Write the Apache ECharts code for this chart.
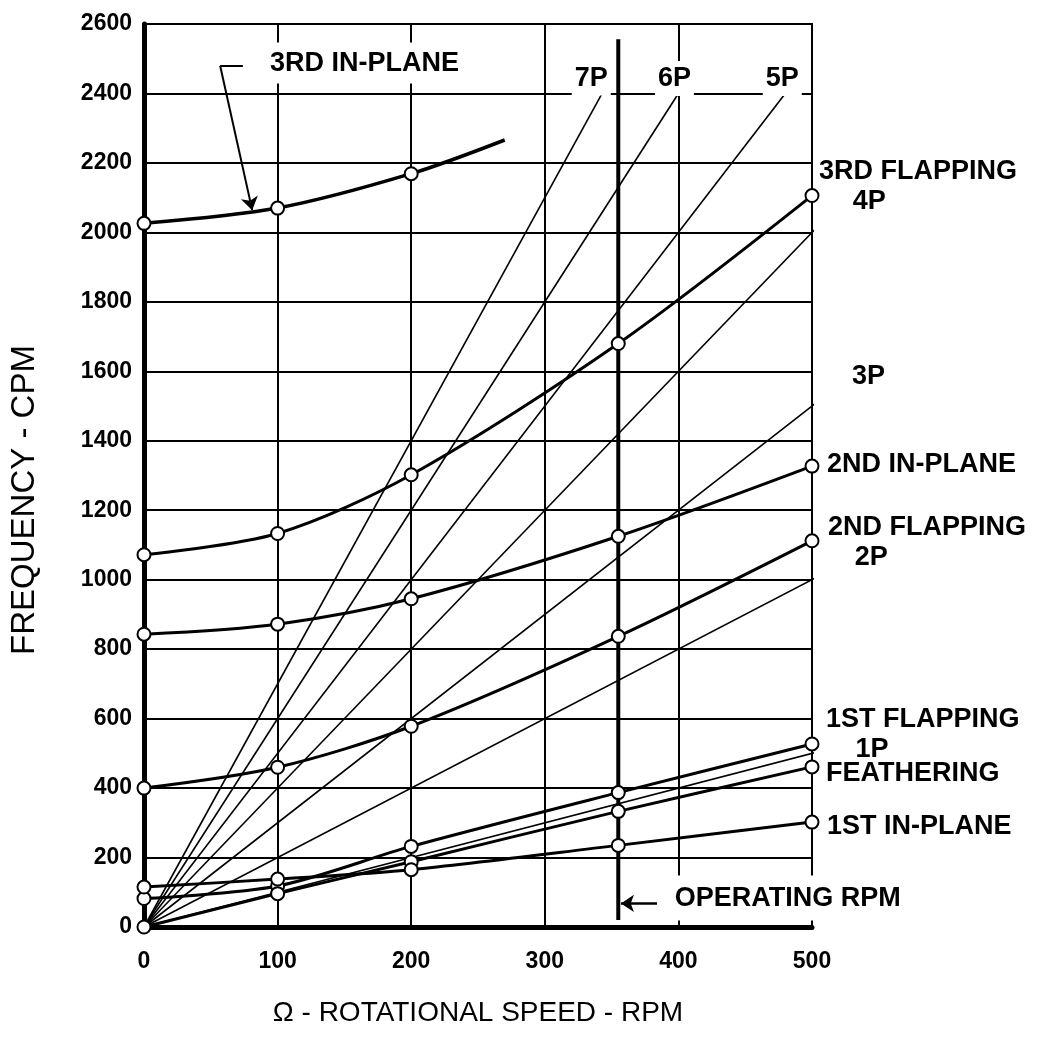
<!DOCTYPE html>
<html>
<head>
<meta charset="utf-8">
<script src="https://cdn.jsdelivr.net/npm/echarts@6/dist/echarts.min.js"></script>
<style>
html,body{margin:0;padding:0;background:#fff;}
#c{width:1054px;height:1038px;}
</style>
</head>
<body>
<div id="c"></div>
<script>
// ---------- data ----------
const rpmStations = [0, 100, 200, 355, 500];

const thirdInPlaneRpm = [0, 100, 200, 270];
const thirdInPlane    = [2026, 2070, 2169, 2266];

const thirdFlapping  = [1072, 1133, 1302, 1680, 2106];
const secondInPlane  = [843, 872, 945, 1125, 1327];
const secondFlapping = [400, 460, 578, 837, 1112];
const firstFlapping  = [82, 118, 232, 387, 527];
const feathering     = [0, 96, 188, 333, 461];
const firstInPlane   = [115, 138, 165, 235, 302];

const perRevNames  = ['1P', '2P', '3P', '4P', '5P', '6P', '7P'];
const perRevEndRpm = [522, 526, 521, 520, 480, 400, 343];
const perRevEndCpm = [522, 1052, 1563, 2080, 2400, 2400, 2401];

const operatingRpm  = 355;
const operatingSpan = [20, 2556];

const xTickLabels = ['0', '100', '200', '300', '400', '500'];
const yTickLabels = ['0', '200', '400', '600', '800', '1000', '1200', '1400',
                     '1600', '1800', '2000', '2200', '2400', '2600'];

// annotation anchors (data units)
const thirdInPlaneText   = [92, 2496];
const thirdInPlaneLeader = [[74, 2480], [57, 2480], [81, 2064]];
const operatingText      = [395, 92];
const operatingArrow     = [[384, 68], [357, 68]];

// ---------- chart ----------
const FONT = '"Liberation Sans", Arial, Helvetica, sans-serif';
const BLACK = '#000';

function pairs(xs, ys) { return xs.map((x, i) => [x, ys[i]]); }

const modeStyle = {
  type: 'line',
  smooth: 0.3,
  symbol: 'circle',
  symbolSize: 13,
  showAllSymbol: true,
  clip: false,
  z: 5,
  lineStyle: { color: BLACK, width: 3 },
  itemStyle: { color: '#fff', borderColor: BLACK, borderWidth: 2 },
  emphasis: { disabled: true }
};

const series = [];

perRevNames.forEach((n, i) => {
  series.push({
    name: n, type: 'line', clip: false, z: 3, showSymbol: false, symbol: 'none',
    lineStyle: { color: BLACK, width: 1.6 },
    emphasis: { disabled: true },
    data: [[0, 0], [perRevEndRpm[i], perRevEndCpm[i]]]
  });
});

series.push({
  name: 'OPERATING RPM', type: 'line', z: 4, showSymbol: false, symbol: 'none',
  lineStyle: { color: BLACK, width: 4 },
  emphasis: { disabled: true },
  data: [[operatingRpm, operatingSpan[0]], [operatingRpm, operatingSpan[1]]],
  markLine: {
    silent: true, animation: false,
    symbol: ['none', 'arrow'], symbolSize: 13,
    label: { show: false },
    lineStyle: { color: BLACK, width: 2.5, type: 'solid' },
    data: [[{ coord: operatingArrow[0] }, { coord: operatingArrow[1] }]]
  }
});

const inPlane3Data = thirdInPlaneRpm.map((x, i) =>
  i === thirdInPlaneRpm.length - 1 ? { value: [x, thirdInPlane[i]], symbol: 'none' } : [x, thirdInPlane[i]]);

series.push(Object.assign({}, modeStyle, {
  name: '3RD IN-PLANE', data: inPlane3Data,
  lineStyle: { color: BLACK, width: 3.5 },
  markLine: {
    silent: true, animation: false,
    symbol: ['none', 'none'],
    label: { show: false },
    lineStyle: { color: BLACK, width: 2, type: 'solid' },
    data: [
      [{ coord: thirdInPlaneLeader[0] }, { coord: thirdInPlaneLeader[1] }],
      [{ coord: thirdInPlaneLeader[1] }, { coord: thirdInPlaneLeader[2], symbol: 'arrow', symbolSize: 13 }]
    ]
  }
}));
series.push(Object.assign({}, modeStyle, { name: '3RD FLAPPING', data: pairs(rpmStations, thirdFlapping) }));
series.push(Object.assign({}, modeStyle, { name: '2ND IN-PLANE', data: pairs(rpmStations, secondInPlane) }));
series.push(Object.assign({}, modeStyle, { name: '2ND FLAPPING', data: pairs(rpmStations, secondFlapping) }));
series.push(Object.assign({}, modeStyle, { name: '1ST FLAPPING', data: pairs(rpmStations, firstFlapping) }));
series.push(Object.assign({}, modeStyle, { name: 'FEATHERING', data: pairs(rpmStations, feathering) }));
series.push(Object.assign({}, modeStyle, { name: '1ST IN-PLANE', data: pairs(rpmStations, firstInPlane) }));

const option = {
  backgroundColor: '#fff',
  animation: false,
  grid: { left: 137, right: 242, top: 24, bottom: 111, show: true, borderColor: BLACK, borderWidth: 2, containLabel: false },
  xAxis: {
    type: 'value', min: 0, max: 500, interval: 100,
    axisLine: { show: true, onZero: false, lineStyle: { color: BLACK, width: 5 } },
    axisTick: { show: false },
    splitLine: { show: true, lineStyle: { color: BLACK, width: 2 } },
    axisLabel: { margin: 23, color: BLACK, fontSize: 23, fontWeight: 'bold', fontFamily: FONT,
                 formatter: v => xTickLabels[Math.round(v / 100)] },
    name: 'Ω - ROTATIONAL SPEED - RPM', nameLocation: 'middle', nameGap: 72,
    nameTextStyle: { color: BLACK, fontSize: 28, fontFamily: FONT }
  },
  yAxis: {
    type: 'value', min: 0, max: 2600, interval: 200,
    axisLine: { show: true, onZero: false, lineStyle: { color: BLACK, width: 5 } },
    axisTick: { show: false },
    splitLine: { show: true, lineStyle: { color: BLACK, width: 2 } },
    axisLabel: { margin: 12, color: BLACK, fontSize: 23, fontWeight: 'bold', fontFamily: FONT,
                 formatter: v => yTickLabels[Math.round(v / 200)] },
    name: 'FREQUENCY - CPM', nameLocation: 'middle', nameGap: 103,
    nameTextStyle: { color: BLACK, fontSize: 33, fontFamily: FONT, padding: [0, 49, 0, 0] }
  },
  series: series
};

const chart = echarts.init(document.getElementById('c'));
chart.setOption(option);

// ---------- text annotations placed through the grid's own scales ----------
const last = a => a[a.length - 1];
const tags = [
  { text: '3RD FLAPPING', at: [500, last(thirdFlapping)], dx: 7, dy: -24 },
  { text: '4P', at: [perRevEndRpm[3], perRevEndCpm[3]], dx: 14, dy: -3 },
  { text: '3P', at: [perRevEndRpm[2], perRevEndCpm[2]], dx: 12, dy: -8 },
  { text: '2ND IN-PLANE', at: [500, last(secondInPlane)], dx: 15, dy: -2 },
  { text: '2ND FLAPPING', at: [500, last(secondFlapping)], dx: 16, dy: -13 },
  { text: '2P', at: [perRevEndRpm[1], perRevEndCpm[1]], dx: 8, dy: -4 },
  { text: '1ST FLAPPING', at: [500, last(firstFlapping)], dx: 14, dy: -24 },
  { text: '1P', at: [perRevEndRpm[0], perRevEndCpm[0]], dx: 14, dy: 4 },
  { text: 'FEATHERING', at: [500, last(feathering)], dx: 14, dy: 7 },
  { text: '1ST IN-PLANE', at: [500, last(firstInPlane)], dx: 15, dy: 4 },
  { text: '5P', at: [perRevEndRpm[4], perRevEndCpm[4]], dx: -3, dy: -15, align: 'center', pad: [4, 3] },
  { text: '6P', at: [perRevEndRpm[5], perRevEndCpm[5]], dx: -4, dy: -15, align: 'center', pad: [4, 3] },
  { text: '7P', at: [perRevEndRpm[6], perRevEndCpm[6]], dx: -11, dy: -15, align: 'center', pad: [4, 3] },
  { text: '3RD IN-PLANE', at: thirdInPlaneText, dx: 0, dy: 3, pad: [10, 3, 4, 3] },
  { text: 'OPERATING RPM', at: operatingText, dx: 0, dy: 3, pad: [6, 3, 12, 3] }
];

chart.setOption({
  graphic: tags.map(t => {
    const p = chart.convertToPixel({ gridIndex: 0 }, t.at);
    const style = {
      text: t.text, fill: BLACK,
      font: 'bold 27px ' + FONT,
      align: t.align || 'left', verticalAlign: 'middle'
    };
    if (t.pad) { style.backgroundColor = '#fff'; style.padding = t.pad; }
    return { type: 'text', x: p[0] + t.dx, y: p[1] + t.dy, z: 100, silent: true, style: style };
  })
});
</script>
</body>
</html>
